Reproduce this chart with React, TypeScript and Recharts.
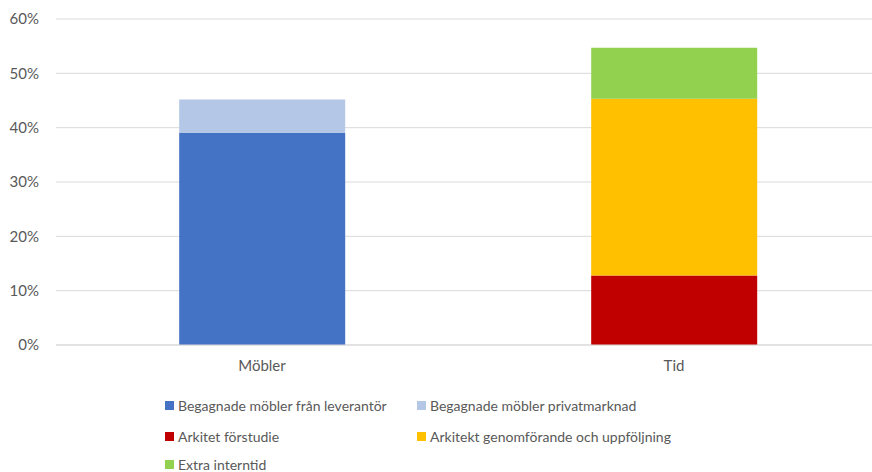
import { BarChart, Bar, XAxis, YAxis, CartesianGrid, Legend } from "recharts";

const categories = ["Möbler", "Tid"];
const begagnadeLeverantor = [39.0, 0];
const begagnadePrivat = [6.2, 0];
const arkitetForstudie = [0, 12.8];
const arkitektGenomforande = [0, 32.5];
const extraInterntid = [0, 9.4];
const yTicks = [0, 10, 20, 30, 40, 50, 60];

const series = [
  { key: "lev", name: "Begagnade möbler från leverantör", color: "#4472C4", values: begagnadeLeverantor },
  { key: "priv", name: "Begagnade möbler privatmarknad", color: "#B4C7E7", values: begagnadePrivat },
  { key: "fors", name: "Arkitet förstudie", color: "#C00000", values: arkitetForstudie },
  { key: "gen", name: "Arkitekt genomförande och uppföljning", color: "#FFC000", values: arkitektGenomforande },
  { key: "extra", name: "Extra interntid", color: "#92D050", values: extraInterntid },
];

const data = categories.map((c, i) => {
  const row: Record<string, string | number> = { name: c };
  series.forEach((s) => (row[s.key] = s.values[i]));
  return row;
});

const font = "Lato, 'Liberation Sans', sans-serif";

function LegendBox() {
  const cols = [165, 417];
  const rows = [30, 61, 89];
  return (
    <div style={{ position: "relative", width: 872, height: 97, fontFamily: font }}>
      {series.map((s, i) => (
        <div
          key={s.key}
          style={{
            position: "absolute",
            left: cols[i % 2],
            top: rows[Math.floor(i / 2)] - 9,
            height: 18,
            display: "flex",
            alignItems: "center",
            fontSize: 14,
            color: "#595959",
            whiteSpace: "nowrap",
          }}
        >
          <span style={{ width: 9, height: 9, background: s.color, marginRight: 4, display: "inline-block" }} />
          {s.name}
        </div>
      ))}
    </div>
  );
}

export default function App() {
  return (
    <div style={{ position: "absolute", left: 0, top: 0, width: 872, height: 472, overflow: "hidden", background: "#fff" }}>
      <BarChart
        width={882}
        height={472}
        data={data}
        margin={{ top: 19, right: 2, left: 0, bottom: 0 }}
        barCategoryGap="29.9%"
      >
        <CartesianGrid vertical={false} stroke="#d9d9d9" />
        <XAxis
          dataKey="name"
          height={30}
          tickLine={false}
          axisLine={{ stroke: "#d9d9d9" }}
          tickMargin={9}
          tick={{ fontSize: 15, fill: "#595959", fontFamily: font }}
        />
        <YAxis
          width={56}
          domain={[0, 60]}
          ticks={yTicks}
          tickFormatter={(v) => `${v}%`}
          axisLine={false}
          tickLine={false}
          tickMargin={11}
          tick={{ fontSize: 15, fill: "#595959", fontFamily: font }}
        />
        <Legend
          verticalAlign="bottom"
          content={() => <LegendBox />}
          wrapperStyle={{ left: 0, width: 872, height: 97 }}
        />
        {series.map((s) => (
          <Bar key={s.key} dataKey={s.key} name={s.name} stackId="a" fill={s.color} isAnimationActive={false} />
        ))}
      </BarChart>
    </div>
  );
}
